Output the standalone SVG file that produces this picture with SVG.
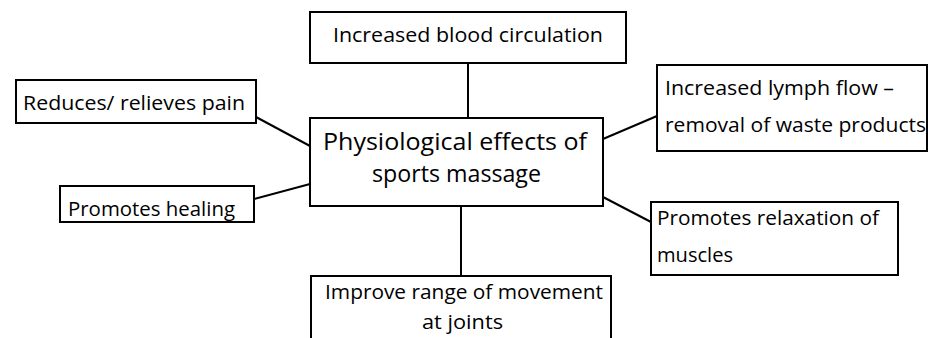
<svg xmlns="http://www.w3.org/2000/svg" width="928" height="338" viewBox="0 0 928 338">
<style>
.box{fill:#fff;stroke:#000;stroke-width:2}
.ln{stroke:#000;stroke-width:2;fill:none}
text{font-family:"Open Sans","DejaVu Sans",sans-serif;fill:#000;font-size:20px}
.big{font-size:23px}
</style>
<rect width="928" height="338" fill="#fff"/>
<g id="connectors">
<line class="ln" x1="468" y1="63" x2="468" y2="118"/>
<line class="ln" x1="256" y1="117" x2="310" y2="146"/>
<line class="ln" x1="254" y1="199" x2="310" y2="184"/>
<line class="ln" x1="603" y1="139" x2="657" y2="116"/>
<line class="ln" x1="603" y1="197" x2="651" y2="222"/>
<line class="ln" x1="461" y1="206" x2="461" y2="276"/>
</g>
<g id="n-center">
<rect class="box" x="310" y="118" width="293" height="88"/>
<text class="big" x="323" y="150" textLength="264" lengthAdjust="spacingAndGlyphs">Physiological effects of</text>
<text class="big" x="372" y="182" textLength="169" lengthAdjust="spacingAndGlyphs">sports massage</text>
</g>
<g id="n-blood">
<rect class="box" x="310" y="12" width="316" height="51"/>
<text x="333" y="42" textLength="270" lengthAdjust="spacingAndGlyphs">Increased blood circulation</text>
</g>
<g id="n-pain">
<rect class="box" x="16" y="80" width="240" height="43"/>
<text x="23" y="110" textLength="222" lengthAdjust="spacingAndGlyphs">Reduces/ relieves pain</text>
</g>
<g id="n-healing">
<rect class="box" x="60" y="186" width="194" height="36"/>
<text x="68" y="216" textLength="167" lengthAdjust="spacingAndGlyphs">Promotes healing</text>
</g>
<g id="n-lymph">
<rect class="box" x="657" y="65" width="270" height="86"/>
<text x="665" y="95" textLength="229" lengthAdjust="spacingAndGlyphs">Increased lymph flow –</text>
<text x="665" y="132" textLength="261" lengthAdjust="spacingAndGlyphs">removal of waste products</text>
</g>
<g id="n-relax">
<rect class="box" x="651" y="202" width="247" height="73"/>
<text x="657" y="225" textLength="222" lengthAdjust="spacingAndGlyphs">Promotes relaxation of</text>
<text x="657" y="262" textLength="76" lengthAdjust="spacingAndGlyphs">muscles</text>
</g>
<g id="n-range">
<rect class="box" x="311" y="276" width="300" height="80"/>
<text x="325" y="299" textLength="278" lengthAdjust="spacingAndGlyphs">Improve range of movement</text>
<text x="422" y="329" textLength="81" lengthAdjust="spacingAndGlyphs">at joints</text>
</g>
</svg>
